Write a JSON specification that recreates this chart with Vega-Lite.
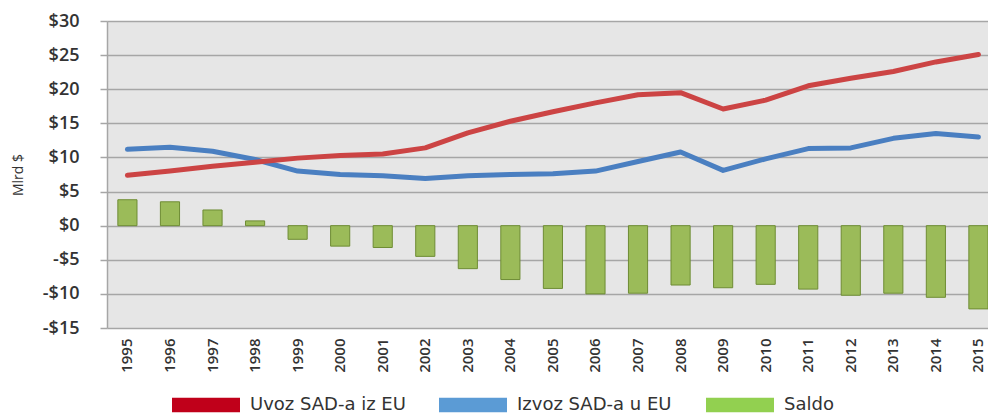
{
  "$schema": "https://vega.github.io/schema/vega-lite/v6.json",
  "width": 881,
  "height": 307,
  "autosize": {"type": "none"},
  "padding": {"left": 107, "top": 21, "right": 0, "bottom": 86},
  "background": "#ffffff",
  "config": {
    "view": {"fill": "#e6e6e6", "stroke": null},
    "font": "Open Sans"
  },
  "data": {
    "values": [
      {"year": "1995", "series": "Uvoz SAD-a iz EU", "value": 7.4},
      {"year": "1996", "series": "Uvoz SAD-a iz EU", "value": 8.0},
      {"year": "1997", "series": "Uvoz SAD-a iz EU", "value": 8.7},
      {"year": "1998", "series": "Uvoz SAD-a iz EU", "value": 9.3},
      {"year": "1999", "series": "Uvoz SAD-a iz EU", "value": 9.9},
      {"year": "2000", "series": "Uvoz SAD-a iz EU", "value": 10.3},
      {"year": "2001", "series": "Uvoz SAD-a iz EU", "value": 10.5},
      {"year": "2002", "series": "Uvoz SAD-a iz EU", "value": 11.4},
      {"year": "2003", "series": "Uvoz SAD-a iz EU", "value": 13.6},
      {"year": "2004", "series": "Uvoz SAD-a iz EU", "value": 15.3},
      {"year": "2005", "series": "Uvoz SAD-a iz EU", "value": 16.7},
      {"year": "2006", "series": "Uvoz SAD-a iz EU", "value": 18.0},
      {"year": "2007", "series": "Uvoz SAD-a iz EU", "value": 19.2},
      {"year": "2008", "series": "Uvoz SAD-a iz EU", "value": 19.5},
      {"year": "2009", "series": "Uvoz SAD-a iz EU", "value": 17.1},
      {"year": "2010", "series": "Uvoz SAD-a iz EU", "value": 18.4},
      {"year": "2011", "series": "Uvoz SAD-a iz EU", "value": 20.5},
      {"year": "2012", "series": "Uvoz SAD-a iz EU", "value": 21.6},
      {"year": "2013", "series": "Uvoz SAD-a iz EU", "value": 22.6},
      {"year": "2014", "series": "Uvoz SAD-a iz EU", "value": 24.0},
      {"year": "2015", "series": "Uvoz SAD-a iz EU", "value": 25.1},
      {"year": "1995", "series": "Izvoz SAD-a u EU", "value": 11.2},
      {"year": "1996", "series": "Izvoz SAD-a u EU", "value": 11.5},
      {"year": "1997", "series": "Izvoz SAD-a u EU", "value": 10.9},
      {"year": "1998", "series": "Izvoz SAD-a u EU", "value": 9.7},
      {"year": "1999", "series": "Izvoz SAD-a u EU", "value": 8.0},
      {"year": "2000", "series": "Izvoz SAD-a u EU", "value": 7.5},
      {"year": "2001", "series": "Izvoz SAD-a u EU", "value": 7.3},
      {"year": "2002", "series": "Izvoz SAD-a u EU", "value": 6.9},
      {"year": "2003", "series": "Izvoz SAD-a u EU", "value": 7.3},
      {"year": "2004", "series": "Izvoz SAD-a u EU", "value": 7.5},
      {"year": "2005", "series": "Izvoz SAD-a u EU", "value": 7.6},
      {"year": "2006", "series": "Izvoz SAD-a u EU", "value": 8.0},
      {"year": "2007", "series": "Izvoz SAD-a u EU", "value": 9.4},
      {"year": "2008", "series": "Izvoz SAD-a u EU", "value": 10.8},
      {"year": "2009", "series": "Izvoz SAD-a u EU", "value": 8.1},
      {"year": "2010", "series": "Izvoz SAD-a u EU", "value": 9.8},
      {"year": "2011", "series": "Izvoz SAD-a u EU", "value": 11.3},
      {"year": "2012", "series": "Izvoz SAD-a u EU", "value": 11.4},
      {"year": "2013", "series": "Izvoz SAD-a u EU", "value": 12.8},
      {"year": "2014", "series": "Izvoz SAD-a u EU", "value": 13.5},
      {"year": "2015", "series": "Izvoz SAD-a u EU", "value": 13.0},
      {"year": "1995", "series": "Saldo", "value": 3.8},
      {"year": "1996", "series": "Saldo", "value": 3.5},
      {"year": "1997", "series": "Saldo", "value": 2.3},
      {"year": "1998", "series": "Saldo", "value": 0.7},
      {"year": "1999", "series": "Saldo", "value": -2.0},
      {"year": "2000", "series": "Saldo", "value": -3.0},
      {"year": "2001", "series": "Saldo", "value": -3.2},
      {"year": "2002", "series": "Saldo", "value": -4.5},
      {"year": "2003", "series": "Saldo", "value": -6.3},
      {"year": "2004", "series": "Saldo", "value": -7.9},
      {"year": "2005", "series": "Saldo", "value": -9.2},
      {"year": "2006", "series": "Saldo", "value": -10.0},
      {"year": "2007", "series": "Saldo", "value": -9.9},
      {"year": "2008", "series": "Saldo", "value": -8.7},
      {"year": "2009", "series": "Saldo", "value": -9.1},
      {"year": "2010", "series": "Saldo", "value": -8.6},
      {"year": "2011", "series": "Saldo", "value": -9.3},
      {"year": "2012", "series": "Saldo", "value": -10.2},
      {"year": "2013", "series": "Saldo", "value": -9.9},
      {"year": "2014", "series": "Saldo", "value": -10.5},
      {"year": "2015", "series": "Saldo", "value": -12.2}
    ]
  },
  "encoding": {
    "x": {
      "field": "year",
      "type": "ordinal",
      "scale": {"paddingInner": 0.55, "paddingOuter": 0.1275, "align": 1},
      "axis": {
        "title": null,
        "labelAngle": 270,
        "labelAlign": "right",
        "labelBaseline": "middle",
        "labelPadding": 10,
        "labelFontSize": 15,
        "labelFontWeight": 600,
        "labelColor": "#333333",
        "domain": false,
        "ticks": false,
        "grid": false
      }
    },
    "y": {
      "field": "value",
      "type": "quantitative",
      "scale": {"domain": [-15, 30], "nice": false, "zero": false},
      "axis": {
        "title": "Mlrd $",
        "titleFontSize": 14,
        "titleFontWeight": "normal",
        "titleColor": "#333333",
        "titlePadding": 17,
        "values": [-15, -10, -5, 0, 5, 10, 15, 20, 25, 30],
        "labelExpr": "(datum.value < 0 ? '-' : '') + '$' + abs(datum.value)",
        "labelFontSize": 18,
        "labelFontWeight": 600,
        "labelColor": "#333333",
        "labelPadding": 21,
        "tickSize": 7,
        "tickColor": "#a6a6a6",
        "tickWidth": 1.5,
        "domainColor": "#a6a6a6",
        "domainWidth": 1.5,
        "grid": true,
        "gridColor": "#a6a6a6",
        "gridWidth": 1.5,
        "gridOpacity": 1
      }
    }
  },
  "layer": [
    {
      "transform": [{"filter": "datum.series === 'Saldo'"}],
      "mark": {"type": "bar", "fill": "#9bbb59", "stroke": "#6e8c34", "strokeWidth": 1},
      "encoding": {}
    },
    {
      "transform": [{"filter": "datum.series === 'Izvoz SAD-a u EU'"}],
      "mark": {"type": "line", "stroke": "#4a7fc1", "strokeWidth": 5, "strokeCap": "round", "strokeJoin": "round"},
      "encoding": {}
    },
    {
      "transform": [{"filter": "datum.series === 'Uvoz SAD-a iz EU'"}],
      "mark": {"type": "line", "stroke": "#cc4444", "strokeWidth": 5, "strokeCap": "round", "strokeJoin": "round"},
      "encoding": {}
    },
    {
      "mark": {"type": "point", "filled": true, "opacity": 0},
      "encoding": {
        "color": {
          "field": "series",
          "type": "nominal",
          "scale": {
            "domain": ["Uvoz SAD-a iz EU", "Izvoz SAD-a u EU", "Saldo"],
            "range": ["#c0001a", "#5b9bd5", "#92d050"]
          },
          "legend": {
            "title": null,
            "orient": "none",
            "direction": "horizontal",
            "legendX": 65,
            "legendY": 350,
            "symbolType": "M-1,-0.21L1,-0.21L1,0.21L-1,0.21Z",
            "symbolSize": 4624,
            "symbolOpacity": 1,
            "symbolStrokeWidth": 0,
            "labelFont": "DejaVu Sans",
            "labelFontSize": 18,
            "labelColor": "#333333",
            "labelOffset": 10,
            "columnPadding": 33,
            "gridAlign": "all"
          }
        }
      }
    }
  ]
}
